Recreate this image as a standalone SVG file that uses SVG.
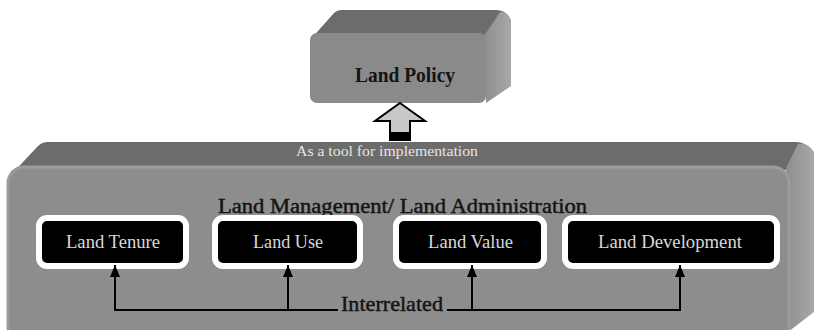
<svg xmlns="http://www.w3.org/2000/svg" width="814" height="330" viewBox="0 0 814 330">
  <defs>
    <linearGradient id="sideGrad" x1="0" y1="0" x2="1" y2="0">
      <stop offset="0" stop-color="#8e8e8e"/>
      <stop offset="1" stop-color="#a8a8a8"/>
    </linearGradient>
    <marker id="arrowUp" viewBox="0 0 12 10" refX="12" refY="5" markerWidth="12" markerHeight="10" markerUnits="userSpaceOnUse" orient="auto">
      <path d="M0,0 L12,5 L0,10 Z" fill="#000"/>
    </marker>
    <style>
      .serif { font-family: "Liberation Serif", "Times New Roman", serif; }
      .top { fill: #6c6c6c; }
      .front { fill: #8d8d8d; stroke: #9b9b9b; stroke-width: 3; }
      .side { fill: url(#sideGrad); }
      .dark { fill: #141414; stroke: #141414; stroke-width: 0.45; }
      .tag { fill: #000; stroke: #fff; stroke-width: 6; }
      .tagText { fill: #d9d9d9; font-size: 18px; text-anchor: middle; }
      .conn { fill: none; stroke: #000; stroke-width: 2; }
    </style>
  </defs>

  <rect width="814" height="330" fill="#ffffff"/>

  <!-- Land Management / Land Administration big box -->
  <g id="land-management">
    <path class="top" d="M8,178 L38,146 Q42,142 48,142 L796,142 Q806,142 810,150 L792,170 L12,170 Z"/>
    <path class="side" d="M786,168 L798,144 Q808,142 814,152 L814,312 L788,332 Z"/>
    <rect class="front" x="8" y="167" width="781" height="180" rx="16"/>
    <text class="serif" x="387" y="156" font-size="14" fill="#e6e6e6" text-anchor="middle" textLength="182" lengthAdjust="spacingAndGlyphs">As a tool for implementation</text>
    <text class="serif dark" x="402.5" y="213" font-size="20" text-anchor="middle" textLength="369" lengthAdjust="spacingAndGlyphs">Land Management/ Land Administration</text>
  </g>

  <!-- Land Policy box -->
  <g id="land-policy">
    <path class="top" d="M310,40 L334,13 Q337,10 342,10 L496,10 Q505,10 509,17 L486,36 L312,36 Z"/>
    <path class="side" d="M484,36 L500,12 Q508,12 511,20 L511,86 L486,103 Z"/>
    <rect x="310" y="33" width="176" height="70" rx="7" fill="#8a8a8a"/>
    <text class="serif" x="405" y="82" font-size="22" font-weight="bold" fill="#141414" text-anchor="middle" textLength="100" lengthAdjust="spacingAndGlyphs">Land Policy</text>
  </g>

  <!-- Up arrow between boxes -->
  <g id="tool-arrow">
    <path d="M400,103 L425,121 L410,121 L410,140 L390,140 L390,121 L375,121 Z" fill="#c8c8c8" stroke="#000" stroke-width="2" stroke-linejoin="miter"/>
    <rect x="390" y="132" width="20" height="9" fill="#000"/>
  </g>

  <!-- Inner nodes -->
  <g id="land-tenure">
    <rect class="tag" x="39" y="218" width="147" height="48" rx="8"/>
    <text class="serif tagText" x="113" y="248" textLength="94" lengthAdjust="spacingAndGlyphs">Land Tenure</text>
  </g>
  <g id="land-use">
    <rect class="tag" x="215" y="218" width="145" height="48" rx="8"/>
    <text class="serif tagText" x="288" y="248" textLength="70" lengthAdjust="spacingAndGlyphs">Land Use</text>
  </g>
  <g id="land-value">
    <rect class="tag" x="396" y="218" width="148" height="48" rx="8"/>
    <text class="serif tagText" x="470.5" y="248" textLength="85" lengthAdjust="spacingAndGlyphs">Land Value</text>
  </g>
  <g id="land-development">
    <rect class="tag" x="565" y="218" width="212" height="48" rx="8"/>
    <text class="serif tagText" x="670" y="248" textLength="144" lengthAdjust="spacingAndGlyphs">Land Development</text>
  </g>

  <!-- Connectors -->
  <g id="connectors">
    <path class="conn" d="M115,310 L115,265" marker-end="url(#arrowUp)"/>
    <path class="conn" d="M288,310 L288,265" marker-end="url(#arrowUp)"/>
    <path class="conn" d="M472,310 L472,265" marker-end="url(#arrowUp)"/>
    <path class="conn" d="M680,310 L680,265" marker-end="url(#arrowUp)"/>
    <path class="conn" d="M114,310 L338,310"/>
    <path class="conn" d="M447,310 L681,310"/>
    <text class="serif dark" x="392" y="311" font-size="21" text-anchor="middle" textLength="102" lengthAdjust="spacingAndGlyphs">Interrelated</text>
  </g>
</svg>
